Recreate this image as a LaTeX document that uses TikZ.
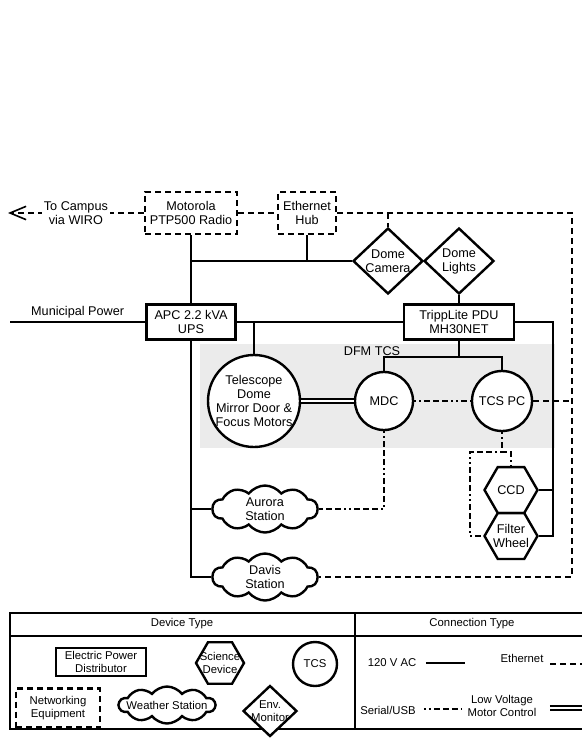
\documentclass[tikz,border=0pt]{standalone}
\usepackage{fontspec}
\setmainfont{Liberation Sans}
\usetikzlibrary{arrows.meta,shapes.geometric,shapes.symbols}
\definecolor{dfmgray}{HTML}{EBEBEB}
\tikzset{
    every node/.style={inner sep=0pt, align=center,
    	font=\fontsize{9.5}{10.5}\selectfont}
}
\tikzset{
    legend/.style={font=\fontsize{8.5}{9.5}\selectfont},
    power/.style={line width=1.7pt},
    ether/.style={line width=1.7pt, dash pattern=on 4.5pt off 3pt},
    serial/.style={line width=1.7pt, dash pattern=on 1.5pt off 2.25pt on 1.5pt off 2.25pt on 4.5pt off 2.25pt on 4.5pt off 2.25pt on 4.5pt off 2.25pt},
    motor/.style={double, double distance=1.4pt, line width=1.2pt},
    distbox/.style={draw, fill=white, line width=1.8pt},
    netbox/.style={distbox, dash pattern=on 4.5pt off 3pt},
    tcs/.style={circle, draw, fill=white, line width=1.8pt},
    science/.style={regular polygon, regular polygon sides=6, draw, fill=white, line width=1.8pt},
    envmon/.style={diamond, draw, fill=white, line width=1.8pt},
    weather/.style={cloud, cloud puffs=10, cloud puff arc=105, cloud ignores aspect, draw, fill=white, line width=1.8pt}
}
\pgfdeclarelayer{background}
\pgfsetlayers{background,main}
\begin{document}
\begin{tikzpicture}[x=0.75pt, y=-0.75pt]
	\useasboundingbox (0,0) rectangle (581,752);

	\node (mot) [netbox, minimum width=69pt, minimum height=31.5pt] at (191, 213) {Motorola\\PTP500 Radio};
	\node (hub) [netbox, minimum width=43.5pt, minimum height=31.5pt] at (307, 213) {Ethernet\\Hub};
	\node (cam) [envmon, minimum width=52.5pt, minimum height=49.5pt, label=center:{Dome\\Camera}] at (388, 261) {};
	\node (lights) [envmon, minimum width=52.5pt, minimum height=49.5pt, label=center:{Dome\\Lights}] at (459, 261) {};
	\node (apc) [distbox, minimum width=66.75pt, minimum height=26.25pt] at (191, 322) {APC 2.2 kVA\\UPS};
	\node (pdu) [distbox, minimum width=82.5pt, minimum height=26.25pt] at (459, 322) {TrippLite PDU\\MH30NET};
	\node (scope) [tcs, minimum size=69pt, label=center:{Telescope\\Dome\\Mirror Door \&\\Focus Motors}] at (254, 401) {};
	\node (mdc) [tcs, minimum size=43.5pt] at (384, 401) {MDC};
	\node (tcspc) [tcs, minimum size=45pt] at (502, 401) {TCS PC};
	\node (ccd) [science, minimum size=39.75pt] at (511, 490) {CCD};
	\node (filter) [science, minimum size=39.75pt, label=center:{Filter\\Wheel}] at (511, 536) {};
	\node (aurora) [weather, minimum width=78.75pt, minimum height=35.25pt, label=center:{Aurora\\Station}] at (265, 509) {};
	\node (davis) [weather, minimum width=78.75pt, minimum height=35.25pt, label=center:{Davis\\Station}] at (265, 577) {};
	\node (dfm) at (372, 351) {DFM TCS};

	\coordinate (campus) at (8, 213);
	\coordinate (grid) at (10, 322);
	\coordinate (netR) at (572, 213);
	\coordinate (pdR) at (553, 322);
	\coordinate (split) at (459, 357);
	\coordinate (usb) at (502, 452);
	\coordinate (usbL) at (470, 452);

	\begin{pgfonlayer}{background}
		\fill[dfmgray] (200, 344) rectangle (555, 448);
	\end{pgfonlayer}

	\draw[ether, -{Straight Barb[length=12pt, width=10pt, line width=1.2pt]}] (mot.west) -- (campus)
		node[midway, fill=white, inner sep=1.5pt] {To Campus\\via WIRO};
	\draw[ether] (mot.east) -- (hub.west);
	\draw[ether] (hub.east) -- (netR) |- (davis.east);
	\draw[ether] (cam.north |- hub.east) -- (cam.north);
	\draw[ether] (tcspc.east) -- (tcspc.east -| netR);

	\draw[power] (mot.south) -- (apc.north);
	\draw[power] (mot.south |- cam.west) -- (cam.west);
	\draw[power] (hub.south) -- (hub.south |- cam.west);
	\draw[power] (lights.south) -- (pdu.north);
	\draw[power] (grid) -- (apc.west) node[midway, above=2pt] {Municipal Power};
	\draw[power] (apc.east) -- (pdu.west);
	\draw[power] (scope.north |- apc.east) -- (scope.north);
	\draw[power] (apc.south) |- (davis.west);
	\draw[power] (apc.south |- aurora.west) -- (aurora.west);
	\draw[power] (pdu.east) -- (pdR) |- (filter.east);
	\draw[power] (ccd.east) -- (ccd.east -| pdR);
	\draw[power] (pdu.south) -- (split);
	\draw[power] (mdc.north) |- (split) -| (tcspc.north);

	\draw[motor] (scope.east) -- (mdc.west);
	\draw[serial] (mdc.east) -- (tcspc.west);
	\draw[serial] (mdc.south) |- (aurora.east);
	\draw[serial] (tcspc.south) -- (usb) -| (ccd.north);
	\draw[serial] (usb) -- (usbL) |- (filter.west);

	\draw[line width=1.6pt] (10, 613) rectangle (720, 729);
	\draw[line width=1.6pt] (10, 636) -- (720, 636);
	\draw[line width=1.6pt] (355, 613) -- (355, 729);

	\node (devtype) [legend] at (182, 624) {Device Type};
	\node (contype) [legend] at (472, 624) {Connection Type};
	\node (epd) [distbox, legend, minimum width=67.5pt, minimum height=21pt] at (101, 662) {Electric Power\\Distributor};
	\node (neteq) [netbox, legend, minimum width=63pt, minimum height=29.25pt] at (58, 708) {Networking\\Equipment};
	\node (sci) [science, minimum size=36pt, label={[legend]center:{Science\\Device}}] at (220, 663) {};
	\node (tcsl) [tcs, legend, minimum size=33pt] at (315, 664) {TCS};
	\node (wx) [weather, minimum width=72pt, minimum height=27.75pt, label={[legend]center:Weather Station}] at (167, 705) {};
	\node (env) [envmon, minimum width=40.5pt, minimum height=38.25pt, label={[legend]center:{Env.\\Monitor}}] at (270, 711) {};

	\node (acl) [legend] at (392, 663) {120 V AC};
	\node (ethl) [legend] at (522, 658) {Ethernet};
	\node (serl) [legend] at (388, 710) {Serial/USB};
	\node (motl) [legend] at (502, 706) {Low Voltage\\Motor Control};
	\draw[power] ([xshift=7pt]acl.east) -- ++(29pt, 0);
	\draw[ether] ([xshift=5pt, yshift=-4.5pt]ethl.east) -- ++(40pt, 0);
	\draw[serial] ([xshift=6pt, yshift=1pt]serl.east) -- ++(28.5pt, 0);
	\draw[motor] ([xshift=10pt, yshift=-1.5pt]motl.east) -- ++(40pt, 0);
\end{tikzpicture}
\end{document}
